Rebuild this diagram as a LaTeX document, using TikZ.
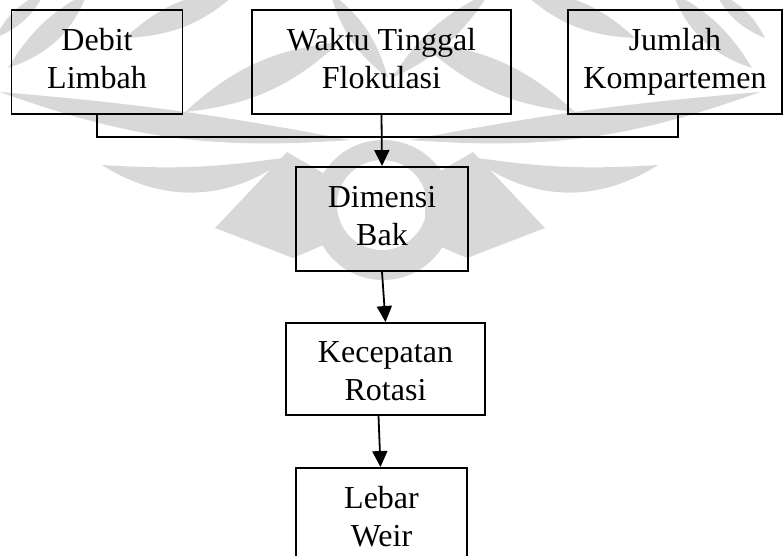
\documentclass[tikz,border=0pt]{standalone}
\usepackage{fontspec}
\setmainfont{Liberation Serif}
\usetikzlibrary{arrows.meta}
\definecolor{wm}{RGB}{216,216,216}
% one half of the faint emblem behind the chart (mirrored for the other half)
\newcommand\wmhalf{%
  \fill[wm] (-5,38) to[bend left=20] (45,-8) to[bend left=20] (-5,38) -- cycle;
  \fill[wm] (8,68) to[bend left=15] (88,-8) to[bend left=25] (8,68) -- cycle;
  \fill[wm] (125,38) to[bend left=20] (240,-10) to[bend left=20] (125,38) -- cycle;
  \fill[wm] (185,112) to[bend left=18] (340,42) to[bend left=18] (185,112) -- cycle;
  \fill[wm] (0,92) to[bend left=3] (350,140) to[bend left=12] (0,92) -- cycle;
  \fill[wm] (102,165) to[bend right=6] (289,157) to[bend left=35] (102,165) -- cycle;
  \fill[wm] (215,228) -- (287,152) -- (335,180) -- (335,240) -- (293,258) -- cycle;
}
\tikzset{
  flowbox/.style={draw=black, line width=1.9pt, align=center, inner sep=0pt,
    font=\fontsize{32}{38}\selectfont},
  flowarrow/.style={line width=1.8pt, -{Triangle[length=16pt,width=15pt]}},
  busline/.style={line width=1.8pt},
}
\begin{document}
\begin{tikzpicture}[x=1pt,y=-1pt]
\useasboundingbox (0,0) rectangle (784,556);
\begin{scope}
\clip (0,0) rectangle (784,556);
% background emblem
\wmhalf
\begin{scope}[xshift=760pt, xscale=-1]
  \wmhalf
\end{scope}
\fill[wm, even odd rule] (383,210) circle[radius=70] (382,205) circle[radius=45];
\fill[wm] (388,78) to[bend left=18] (330,-8) to[bend left=18] (388,78) -- cycle;
\fill[wm] (392,78) to[bend right=16] (490,-8) to[bend right=16] (392,78) -- cycle;

% boxes
\node[flowbox, minimum width=171pt, minimum height=104pt] (debit) at (97,62)
  {\strut Debit\\ \strut Limbah};
\node[flowbox, minimum width=259pt, minimum height=104pt] (waktu) at (381.5,62)
  {\strut Waktu Tinggal\\ \strut Flokulasi};
\node[flowbox, minimum width=214pt, minimum height=104pt] (jumlah) at (675,62)
  {\strut Jumlah\\ \strut Kompartemen};
\node[flowbox, minimum width=172pt, minimum height=104pt] (dimensi) at (382,219)
  {\strut Dimensi\\ \strut Bak};
\node[flowbox, minimum width=199pt, minimum height=92pt] (kecepatan) at (385.5,369)
  {\rule{0pt}{37pt}Kecepatan\\ \strut Rotasi};
\node[flowbox, minimum width=171pt, minimum height=104pt] (lebar) at (381.5,520)
  {\strut Lebar\\ \strut Weir};

% connectors
\coordinate (bus) at (0,137);
\coordinate (jdrop) at ([xshift=3pt]jumlah.south);
\draw[busline] (debit.south) -- (debit.south |- bus) -- (jdrop |- bus) -- (jdrop);
\draw[flowarrow] (waktu.south) -- (dimensi.north);
\draw[flowarrow] (dimensi.south) -- (kecepatan.north);
\draw[flowarrow] ([xshift=-7pt]kecepatan.south) -- ([xshift=-1pt]lebar.north);
\end{scope}
\end{tikzpicture}
\end{document}
